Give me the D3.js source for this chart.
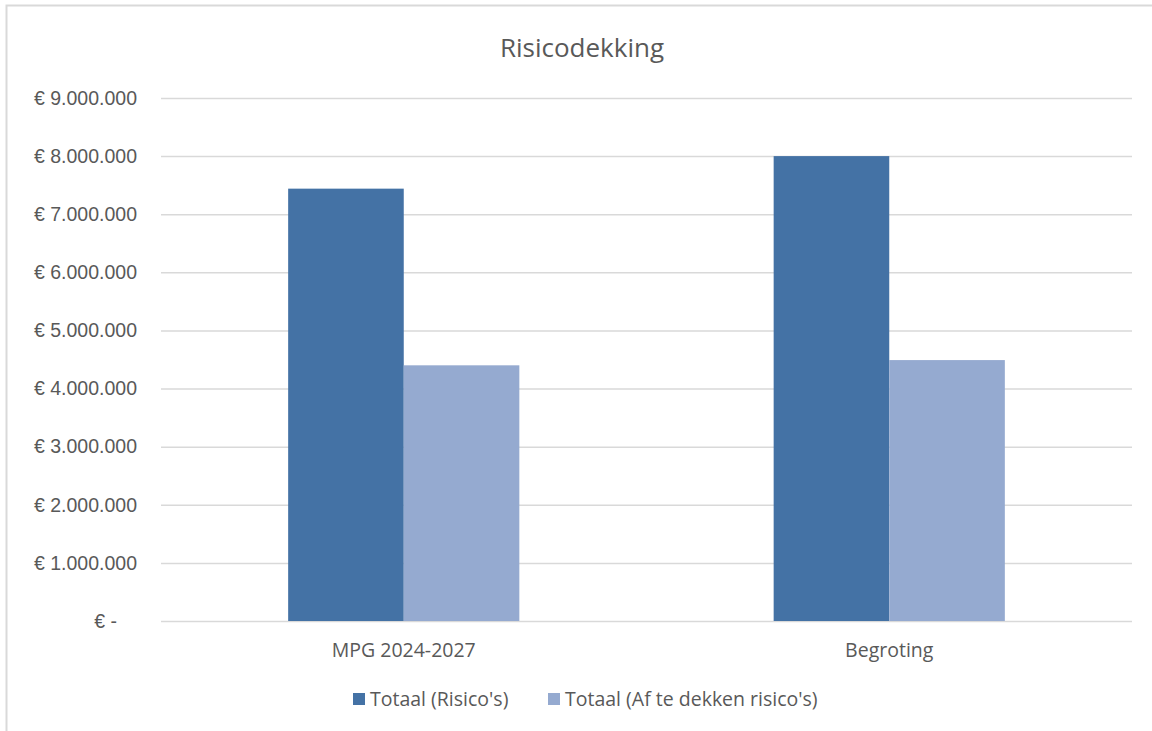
<!DOCTYPE html>
<html>
<head>
<meta charset="utf-8">
<script src="https://cdn.jsdelivr.net/npm/d3@7"></script>
<style>
  html, body { margin: 0; padding: 0; background: #fff; }
  svg { display: block; font-family: "Open Sans", "Noto Sans", sans-serif; }
</style>
</head>
<body>
<div id="chart"></div>
<script>
// data
const categories = ["MPG 2024-2027", "Begroting"];
const seriesNames = ["Totaal (Risico's)", "Totaal (Af te dekken risico's)"];
const totaalRisicos = [7440000, 8000000];
const afTeDekken = [4400000, 4490000];
const yMax = 9000000;
const yTickStep = 1000000;

const colors = ["#4472A5", "#95AAD0"];

document.addEventListener('DOMContentLoaded', () => {
    const width = 1152;
    const height = 731;
    const plot = { left: 161, right: 1132, top: 98, bottom: 621 };

    const svg = d3.select('#chart')
        .append('svg')
        .attr('width', width)
        .attr('height', height);

    // chart frame (right and bottom edges fall outside the picture)
    svg.append('rect')
        .attr('x', 6.5).attr('y', 5.5)
        .attr('width', 1300).attr('height', 900)
        .attr('fill', 'none')
        .attr('stroke', '#d9d9d9')
        .attr('stroke-width', 2);

    // title
    svg.append('text')
        .attr('x', 582)
        .attr('y', 57)
        .attr('text-anchor', 'middle')
        .style('font-size', '26px')
        .style('fill', '#595959')
        .text('Risicodekking');

    const rows = categories.map((c, i) => ({
        category: c,
        values: [totaalRisicos[i], afTeDekken[i]]
    }));

    const x0 = d3.scaleBand()
        .domain(categories)
        .range([plot.left, plot.right])
        .padding(0);

    const x1 = d3.scaleBand()
        .domain(d3.range(seriesNames.length))
        .range([0, x0.bandwidth()])
        .paddingInner(0)
        .paddingOuter(1.1);

    const y = d3.scaleLinear()
        .domain([0, yMax])
        .range([plot.bottom, plot.top]);

    const nl = d3.formatLocale({ decimal: ',', thousands: '.', grouping: [3], currency: ['€ ', ''] });
    const fmt = nl.format(',.0f');

    // y axis with gridlines
    const yAxis = svg.append('g')
        .attr('transform', `translate(${plot.left},0)`)
        .call(d3.axisLeft(y)
            .tickValues(d3.range(0, yMax + 1, yTickStep))
            .tickSize(-(plot.right - plot.left))
            .tickPadding(24)
            .tickFormat(v => v === 0 ? '€ -' : '€ ' + fmt(v)));

    yAxis.select('.domain').remove();
    yAxis.selectAll('.tick line')
        .attr('stroke', '#d9d9d9')
        .attr('stroke-width', 1.5);
    yAxis.selectAll('.tick text')
        .style('font-size', '19.5px')
        .style('fill', '#595959')
        .attr('dx', d => d === 0 ? -20 : 0);

    // bars
    const group = svg.selectAll('g.group')
        .data(rows)
        .enter()
        .append('g')
        .attr('class', 'group')
        .attr('transform', d => `translate(${x0(d.category)},0)`);

    group.selectAll('rect')
        .data(d => d.values.map((v, i) => ({ i, v })))
        .enter()
        .append('rect')
        .attr('x', d => x1(d.i))
        .attr('y', d => y(d.v))
        .attr('width', x1.bandwidth())
        .attr('height', d => y(0) - y(d.v))
        .attr('fill', d => colors[d.i]);

    // category labels
    svg.selectAll('text.cat')
        .data(categories)
        .enter()
        .append('text')
        .attr('class', 'cat')
        .attr('x', d => x0(d) + x0.bandwidth() / 2)
        .attr('y', 657)
        .attr('text-anchor', 'middle')
        .style('font-size', '19.5px')
        .style('fill', '#595959')
        .text(d => d);

    // legend
    const legendX = [353, 548];
    const legend = svg.selectAll('g.legend-item')
        .data(seriesNames)
        .enter()
        .append('g')
        .attr('class', 'legend-item')
        .attr('transform', (d, i) => `translate(${legendX[i]},693)`);

    legend.append('rect')
        .attr('width', 12)
        .attr('height', 12)
        .attr('fill', (d, i) => colors[i]);

    legend.append('text')
        .attr('x', 17)
        .attr('y', 13)
        .style('font-size', '19.5px')
        .style('fill', '#595959')
        .text(d => d);
});
</script>
</body>
</html>
